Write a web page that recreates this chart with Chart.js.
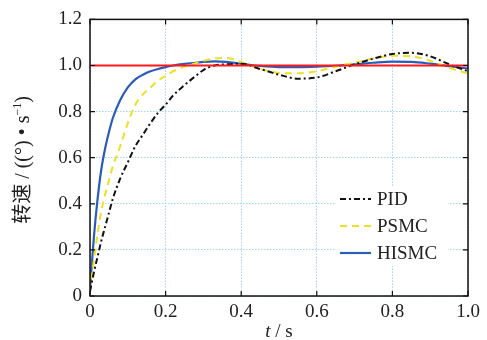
<!DOCTYPE html>
<html>
<head>
<meta charset="utf-8">
<script src="https://cdn.jsdelivr.net/npm/chart.js@4/dist/chart.umd.min.js"></script>
<style>
  html, body { margin: 0; padding: 0; background: #fff; }
  #wrap { width: 487px; height: 340px; }
</style>
</head>
<body>
<div id="wrap"><canvas id="speedChart" width="487" height="340"></canvas></div>
<script>
// time axis (s)
const timeS = [0, 0.01, 0.02, 0.03, 0.04, 0.05, 0.06, 0.08, 0.1, 0.12, 0.14, 0.16, 0.18, 0.2,
  0.22, 0.25, 0.28, 0.3, 0.33, 0.36, 0.4, 0.45, 0.5, 0.55, 0.6, 0.65, 0.7, 0.75, 0.8, 0.85, 0.9, 0.95, 1.0];

// speed responses
const pidSpeed = [0.02, 0.1, 0.17, 0.24, 0.3, 0.36, 0.42, 0.51, 0.58, 0.65, 0.7, 0.75, 0.795, 0.83,
  0.87, 0.915, 0.955, 0.98, 1.0, 1.005, 1.008, 0.985, 0.96, 0.943, 0.948, 0.975, 1.005, 1.03, 1.05, 1.055, 1.04, 1.005, 0.975];
const psmcSpeed = [0.02, 0.15, 0.27, 0.37, 0.44, 0.5, 0.56, 0.65, 0.75, 0.83, 0.875, 0.905, 0.935, 0.955,
  0.975, 0.995, 1.01, 1.02, 1.03, 1.033, 1.015, 0.985, 0.968, 0.966, 0.975, 0.995, 1.012, 1.03, 1.042, 1.04, 1.02, 0.99, 0.965];
const hismcSpeed = [0.03, 0.25, 0.42, 0.55, 0.64, 0.71, 0.77, 0.85, 0.905, 0.94, 0.96, 0.975, 0.985, 0.993,
  1.0, 1.007, 1.012, 1.016, 1.018, 1.016, 1.008, 0.998, 0.993, 0.993, 0.995, 0.999, 1.005, 1.012, 1.017, 1.016, 1.008, 0.997, 0.987];

const refTime = [0, 1.0];
const refSpeed = [1.0, 1.0];

const xTicks = [0, 0.2, 0.4, 0.6, 0.8, 1.0];
const yTicks = [0, 0.2, 0.4, 0.6, 0.8, 1.0, 1.2];

const serif = "'Liberation Serif', 'Times New Roman', serif";

function toPoints(xs, ys) {
  return xs.map((x, i) => ({ x: x, y: ys[i] }));
}

function fmt(v) {
  return v === 0 ? '0' : v.toFixed(1);
}

// box around the plot, inward tick marks, axis titles and legend
const decorations = {
  id: 'decorations',
  afterDatasetsDraw(chart) {
    const ctx = chart.ctx;
    const a = chart.chartArea;
    const xs = chart.scales.x;
    const ys = chart.scales.y;
    ctx.save();

    // legend
    const legendItems = chart.data.datasets.filter(d => d.inLegend);
    ctx.fillStyle = '#fff';
    ctx.fillRect(336, 186, 112, 80);
    legendItems.forEach((d, i) => {
      const cy = 199 + i * 27;
      ctx.beginPath();
      ctx.strokeStyle = d.borderColor;
      ctx.lineWidth = d.borderWidth;
      ctx.setLineDash(d.borderDash || []);
      ctx.moveTo(340, cy);
      ctx.lineTo(371, cy);
      ctx.stroke();
      ctx.setLineDash([]);
      ctx.fillStyle = '#222';
      ctx.font = '19px ' + serif;
      ctx.textAlign = 'left';
      ctx.textBaseline = 'middle';
      ctx.fillText(d.label, 377, cy + 1);
    });

    // frame
    ctx.setLineDash([]);
    ctx.strokeStyle = '#111';
    ctx.lineWidth = 1.5;
    ctx.strokeRect(a.left, a.top, a.right - a.left, a.bottom - a.top);

    // inward ticks
    ctx.lineWidth = 1.2;
    ctx.beginPath();
    xTicks.forEach(v => {
      const px = xs.getPixelForValue(v);
      ctx.moveTo(px, a.bottom); ctx.lineTo(px, a.bottom - 5);
      ctx.moveTo(px, a.top); ctx.lineTo(px, a.top + 5);
    });
    yTicks.forEach(v => {
      const py = ys.getPixelForValue(v);
      ctx.moveTo(a.left, py); ctx.lineTo(a.left + 5, py);
      ctx.moveTo(a.right, py); ctx.lineTo(a.right - 5, py);
    });
    ctx.stroke();

    // x title: t / s
    ctx.fillStyle = '#222';
    ctx.textBaseline = 'alphabetic';
    ctx.textAlign = 'left';
    const italicFont = 'italic 19px ' + serif;
    const plainFont = '19px ' + serif;
    ctx.font = italicFont;
    const wT = ctx.measureText('t').width;
    ctx.font = plainFont;
    const wRest = ctx.measureText(' / s').width;
    let sx = (a.left + a.right) / 2 - (wT + wRest) / 2;
    ctx.font = italicFont;
    ctx.fillText('t', sx, 337);
    ctx.font = plainFont;
    ctx.fillText(' / s', sx + wT, 337);

    // y title: 转速 / ((°) • s^-1)
    const yFont = '20px ' + serif;
    const parts = [
      { text: '转速', font: "20px 'Noto Sans CJK SC', sans-serif", dy: 0 },
      { text: ' / ((°) • s', font: yFont, dy: 0 },
      { text: '−1', font: '12px ' + serif, dy: -8 },
      { text: ')', font: yFont, dy: 0 }
    ];
    let total = 0;
    parts.forEach(p => { ctx.font = p.font; p.w = ctx.measureText(p.text).width; total += p.w; });
    ctx.translate(29, 160);
    ctx.rotate(-Math.PI / 2);
    let px = -total / 2;
    parts.forEach(p => {
      ctx.font = p.font;
      ctx.fillText(p.text, px, p.dy);
      px += p.w;
    });
    ctx.restore();
  }
};

new Chart(document.getElementById('speedChart'), {
  type: 'line',
  data: {
    datasets: [
      {
        label: 'ref',
        data: toPoints(refTime, refSpeed),
        borderColor: '#ff1a1a',
        borderWidth: 1.8,
        inLegend: false
      },
      {
        label: 'PID',
        data: toPoints(timeS, pidSpeed),
        borderColor: '#111111',
        borderWidth: 2,
        borderDash: [6, 3, 2, 3],
        inLegend: true
      },
      {
        label: 'PSMC',
        data: toPoints(timeS, psmcSpeed),
        borderColor: '#f0e024',
        borderWidth: 2,
        borderDash: [7, 5],
        inLegend: true
      },
      {
        label: 'HISMC',
        data: toPoints(timeS, hismcSpeed),
        borderColor: '#2a5cb8',
        borderWidth: 2.2,
        inLegend: true
      }
    ]
  },
  options: {
    responsive: false,
    animation: false,
    events: [],
    layout: { padding: { top: 15, right: 19, left: 0, bottom: 0 } },
    elements: {
      point: { radius: 0 },
      line: { tension: 0.4, cubicInterpolationMode: 'monotone', fill: false }
    },
    plugins: {
      legend: { display: false },
      tooltip: { enabled: false }
    },
    scales: {
      x: {
        type: 'linear',
        min: 0,
        max: 1.0,
        afterFit: s => { s.height = 44; },
        afterBuildTicks: s => { s.ticks = xTicks.map(v => ({ value: v })); },
        ticks: {
          padding: 5,
          color: '#222',
          font: { family: serif, size: 19 },
          callback: v => fmt(v)
        },
        grid: { color: '#9fd6ea', lineWidth: 1, drawTicks: false },
        border: { display: false, dash: [1.5, 1.5] }
      },
      y: {
        min: 0,
        max: 1.2,
        afterFit: s => { s.width = 90; },
        afterBuildTicks: s => { s.ticks = yTicks.map(v => ({ value: v })); },
        ticks: {
          padding: 8,
          color: '#222',
          font: { family: serif, size: 19 },
          callback: v => fmt(v)
        },
        grid: { color: '#9fd6ea', lineWidth: 1, drawTicks: false },
        border: { display: false, dash: [1.5, 1.5] }
      }
    }
  },
  plugins: [decorations]
});
</script>
</body>
</html>
